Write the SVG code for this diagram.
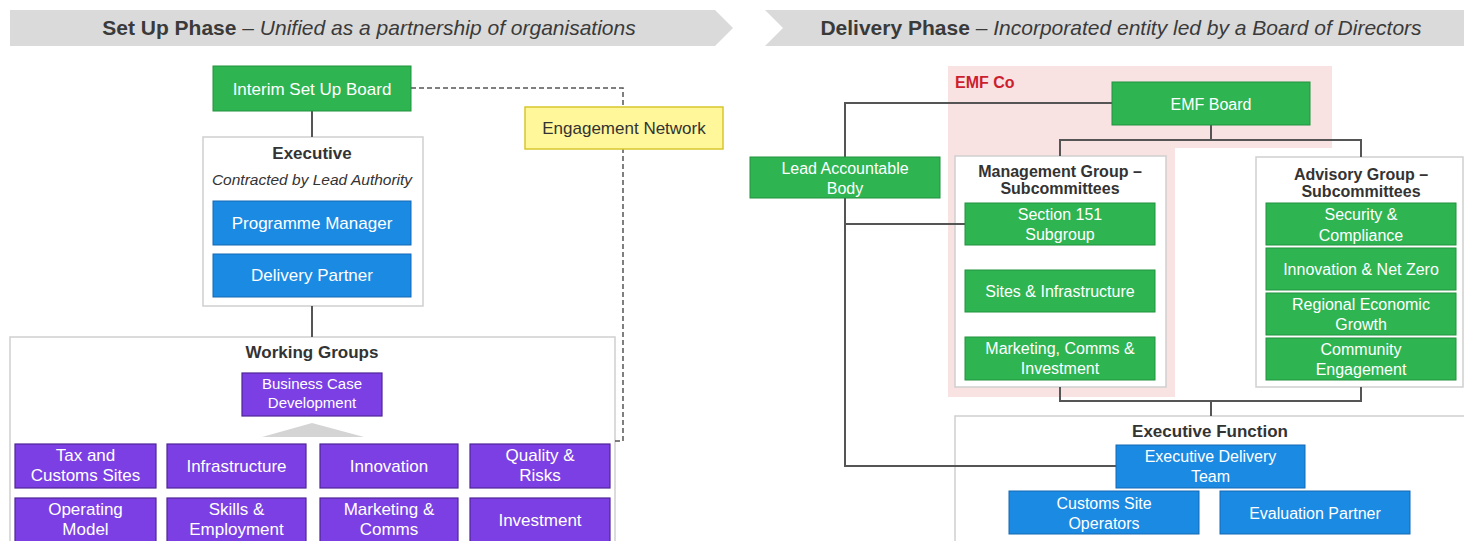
<svg xmlns="http://www.w3.org/2000/svg" width="1464" height="541" viewBox="0 0 1464 541">
  <style>
    text { font-family: "Liberation Sans", Arial, sans-serif; }
    .hdr { fill: #dadada; }
    .hdrtxt { font-size: 21px; fill: #3a3a3a; }
    .panel { fill: #ffffff; stroke: #cfcfcf; stroke-width: 1.5; }
    .green { fill: #2eb552; stroke: #23923f; stroke-width: 1; }
    .blue { fill: #1b8ae2; stroke: #1469b3; stroke-width: 1; }
    .purple { fill: #7b3fe4; stroke: #4f2596; stroke-width: 1.2; }
    .yellow { fill: #fff799; stroke: #d8c62e; stroke-width: 1.5; }
    .lbl { fill: #ffffff; font-size: 17px; text-anchor: middle; }
    .lbl2 { fill: #ffffff; font-size: 16px; text-anchor: middle; }
    .sm { fill: #ffffff; font-size: 15px; text-anchor: middle; }
    .title { fill: #333333; font-size: 17px; font-weight: bold; text-anchor: middle; }
    .title2 { fill: #333333; font-size: 16px; font-weight: bold; text-anchor: middle; }
    .link { fill: none; stroke: #555555; stroke-width: 2; }
    .dash { fill: none; stroke: #555555; stroke-width: 1.5; stroke-dasharray: 5 3; }
  </style>

  <!-- phase banners -->
  <g id="setup-header">
    <polygon class="hdr" points="10,10 715,10 733,28 715,46 10,46"/>
    <text class="hdrtxt" x="369" y="35" text-anchor="middle"><tspan font-weight="bold">Set Up Phase</tspan> – <tspan font-style="italic">Unified as a partnership of organisations</tspan></text>
  </g>
  <g id="delivery-header">
    <polygon class="hdr" points="765,10 1464,10 1464,46 765,46 783,28"/>
    <text class="hdrtxt" x="1121" y="35" text-anchor="middle"><tspan font-weight="bold">Delivery Phase</tspan> – <tspan font-style="italic">Incorporated entity led by a Board of Directors</tspan></text>
  </g>

  <!-- EMF Co shaded region -->
  <g id="emf-co">
    <path d="M948,66 H1332 V148 H1175 V397 H948 Z" fill="#f9e2e2"/>
    <text x="955" y="88" font-size="16" font-weight="bold" fill="#cc1f2e">EMF Co</text>
  </g>

  <!-- container panels -->
  <g id="executive">
    <rect class="panel" x="203" y="137" width="220" height="169"/>
    <text class="title" x="312" y="159">Executive</text>
    <text x="312" y="185" font-size="15.5" font-style="italic" fill="#333333" text-anchor="middle">Contracted by Lead Authority</text>
  </g>
  <g id="working-groups">
    <rect class="panel" x="10" y="337" width="605" height="220"/>
    <text class="title" x="312" y="358">Working Groups</text>
    <polygon points="262,437 364,437 312,423" fill="#d4d4d4"/>
  </g>
  <g id="management-group">
    <rect class="panel" x="955" y="156" width="211" height="231"/>
    <text class="title2" x="1060" y="177">Management Group –</text>
    <text class="title2" x="1060" y="194">Subcommittees</text>
  </g>
  <g id="advisory-group">
    <rect class="panel" x="1256" y="157" width="207" height="230"/>
    <text class="title2" x="1361" y="180">Advisory Group –</text>
    <text class="title2" x="1361" y="197">Subcommittees</text>
  </g>
  <g id="executive-function">
    <rect class="panel" x="955" y="416" width="520" height="140"/>
    <text class="title" x="1210" y="437">Executive Function</text>
  </g>

  <!-- connectors -->
  <g id="connectors">
    <line class="link" x1="312" y1="111" x2="312" y2="137"/>
    <line class="link" x1="312" y1="306" x2="312" y2="337"/>
    <polyline class="dash" points="411,88 623,88 623,441 615,441"/>
    <polyline class="link" points="1112,103 845,103 845,466 1116,466"/>
    <line class="link" x1="845" y1="224" x2="965" y2="224"/>
    <line class="link" x1="1211" y1="125" x2="1211" y2="140"/>
    <polyline class="link" points="1060,156 1060,140 1361,140 1361,157"/>
    <polyline class="link" points="1060,387 1060,401 1361,401 1361,387"/>
    <line class="link" x1="1211" y1="401" x2="1211" y2="416"/>
  </g>

  <!-- set up phase -->
  <g id="interim-board">
    <rect class="green" x="213" y="66" width="198" height="45"/>
    <text class="lbl" x="312" y="94.5">Interim Set Up Board</text>
  </g>
  <g id="engagement-network">
    <rect class="yellow" x="525" y="107" width="198" height="42"/>
    <text x="624" y="134" font-size="17" fill="#333333" text-anchor="middle">Engagement Network</text>
  </g>
  <g id="programme-manager">
    <rect class="blue" x="213" y="201" width="198" height="44"/>
    <text class="lbl" x="312" y="229">Programme Manager</text>
  </g>
  <g id="delivery-partner">
    <rect class="blue" x="213" y="254" width="198" height="43"/>
    <text class="lbl" x="312" y="281">Delivery Partner</text>
  </g>

  <g id="business-case">
    <rect class="purple" x="242" y="373" width="140" height="43"/>
    <text class="sm" x="312" y="389">Business Case</text>
    <text class="sm" x="312" y="408">Development</text>
  </g>
  <g id="wg-tax">
    <rect class="purple" x="15" y="444" width="141" height="44"/>
    <text class="lbl" x="85.5" y="461">Tax and</text>
    <text class="lbl" x="85.5" y="481">Customs Sites</text>
  </g>
  <g id="wg-infrastructure">
    <rect class="purple" x="167" y="444" width="139" height="44"/>
    <text class="lbl" x="236.5" y="472">Infrastructure</text>
  </g>
  <g id="wg-innovation">
    <rect class="purple" x="320" y="444" width="138" height="44"/>
    <text class="lbl" x="389" y="472">Innovation</text>
  </g>
  <g id="wg-quality">
    <rect class="purple" x="470" y="444" width="140" height="44"/>
    <text class="lbl" x="540" y="461">Quality &amp;</text>
    <text class="lbl" x="540" y="481">Risks</text>
  </g>
  <g id="wg-operating">
    <rect class="purple" x="15" y="498" width="141" height="50"/>
    <text class="lbl" x="85.5" y="515">Operating</text>
    <text class="lbl" x="85.5" y="535">Model</text>
  </g>
  <g id="wg-skills">
    <rect class="purple" x="167" y="498" width="139" height="50"/>
    <text class="lbl" x="236.5" y="515">Skills &amp;</text>
    <text class="lbl" x="236.5" y="535">Employment</text>
  </g>
  <g id="wg-marketing">
    <rect class="purple" x="320" y="498" width="138" height="50"/>
    <text class="lbl" x="389" y="515">Marketing &amp;</text>
    <text class="lbl" x="389" y="535">Comms</text>
  </g>
  <g id="wg-investment">
    <rect class="purple" x="470" y="498" width="140" height="50"/>
    <text class="lbl" x="540" y="526">Investment</text>
  </g>

  <!-- delivery phase -->
  <g id="emf-board">
    <rect class="green" x="1112" y="82" width="198" height="43"/>
    <text class="lbl2" x="1211" y="109.5">EMF Board</text>
  </g>
  <g id="lead-accountable-body">
    <rect class="green" x="750" y="157" width="190" height="41"/>
    <text class="lbl2" x="845" y="174">Lead Accountable</text>
    <text class="lbl2" x="845" y="194">Body</text>
  </g>

  <g id="section-151">
    <rect class="green" x="965" y="203" width="190" height="42"/>
    <text class="lbl2" x="1060" y="220">Section 151</text>
    <text class="lbl2" x="1060" y="240">Subgroup</text>
  </g>
  <g id="sites-infrastructure">
    <rect class="green" x="965" y="270" width="190" height="42"/>
    <text class="lbl2" x="1060" y="297">Sites &amp; Infrastructure</text>
  </g>
  <g id="marketing-comms-investment">
    <rect class="green" x="965" y="337" width="190" height="43"/>
    <text class="lbl2" x="1060" y="354">Marketing, Comms &amp;</text>
    <text class="lbl2" x="1060" y="374">Investment</text>
  </g>

  <g id="security-compliance">
    <rect class="green" x="1266" y="203" width="190" height="42"/>
    <text class="lbl2" x="1361" y="220">Security &amp;</text>
    <text class="lbl2" x="1361" y="241">Compliance</text>
  </g>
  <g id="innovation-net-zero">
    <rect class="green" x="1266" y="248" width="190" height="42"/>
    <text class="lbl2" x="1361" y="275">Innovation &amp; Net Zero</text>
  </g>
  <g id="regional-growth">
    <rect class="green" x="1266" y="293" width="190" height="42"/>
    <text class="lbl2" x="1361" y="310">Regional Economic</text>
    <text class="lbl2" x="1361" y="330">Growth</text>
  </g>
  <g id="community-engagement">
    <rect class="green" x="1266" y="338" width="190" height="42"/>
    <text class="lbl2" x="1361" y="355">Community</text>
    <text class="lbl2" x="1361" y="375">Engagement</text>
  </g>

  <g id="executive-delivery-team">
    <rect class="blue" x="1116" y="445" width="189" height="43"/>
    <text class="lbl2" x="1210.5" y="462">Executive Delivery</text>
    <text class="lbl2" x="1210.5" y="482">Team</text>
  </g>
  <g id="customs-site-operators">
    <rect class="blue" x="1009" y="491" width="190" height="43"/>
    <text class="lbl2" x="1104" y="509">Customs Site</text>
    <text class="lbl2" x="1104" y="529">Operators</text>
  </g>
  <g id="evaluation-partner">
    <rect class="blue" x="1220" y="491" width="190" height="43"/>
    <text class="lbl2" x="1315" y="519">Evaluation Partner</text>
  </g>
</svg>
